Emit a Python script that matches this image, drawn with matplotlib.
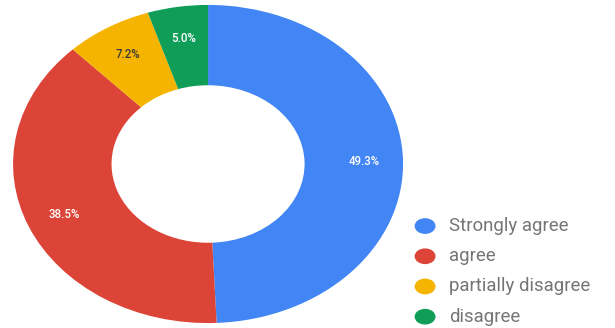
import matplotlib.pyplot as plt
from matplotlib.patches import Ellipse

labels = ['Strongly agree', 'agree', 'partially disagree', 'disagree']
values = [49.3, 38.5, 7.2, 5.0]
colors = ['#4285F4', '#DB4437', '#F4B400', '#0F9D58']
pct_colors = ['white', 'white', '#3a3a3a', 'white']

plt.rcParams['font.family'] = ['Roboto', 'DejaVu Sans']

fig = plt.figure(figsize=(6.15, 3.28), dpi=100)
ax = fig.add_axes([0, 0, 1, 1])

wedges, texts, autotexts = ax.pie(
    values, colors=colors, startangle=90, counterclock=False,
    autopct='%1.1f%%', pctdistance=0.8,
    wedgeprops=dict(width=0.505, edgecolor='none'),
    textprops=dict(fontsize=8.3, fontweight='medium'))
for t, c in zip(autotexts, pct_colors):
    t.set_color(c)

# pie is stretched horizontally in the original, so keep the aspect free
ax.set_aspect('auto')
ax.set_xlim(-1.067, 2.087)
ax.set_ylim(-1.031, 1.031)
ax.axis('off')

# legend drawn by hand (ellipse dots + grey text)
x_dot, x_txt = 1.113, 1.236
y0, dy = -0.39, 0.19
for i, (lab, col) in enumerate(zip(labels, colors)):
    y = y0 - i * dy
    ax.add_patch(Ellipse((x_dot, y), 0.1, 0.09, color=col, clip_on=False))
    ax.text(x_txt, y, lab, fontsize=13.4, color='#757575', va='center', ha='left')

fig.savefig('out.png', dpi=100)
